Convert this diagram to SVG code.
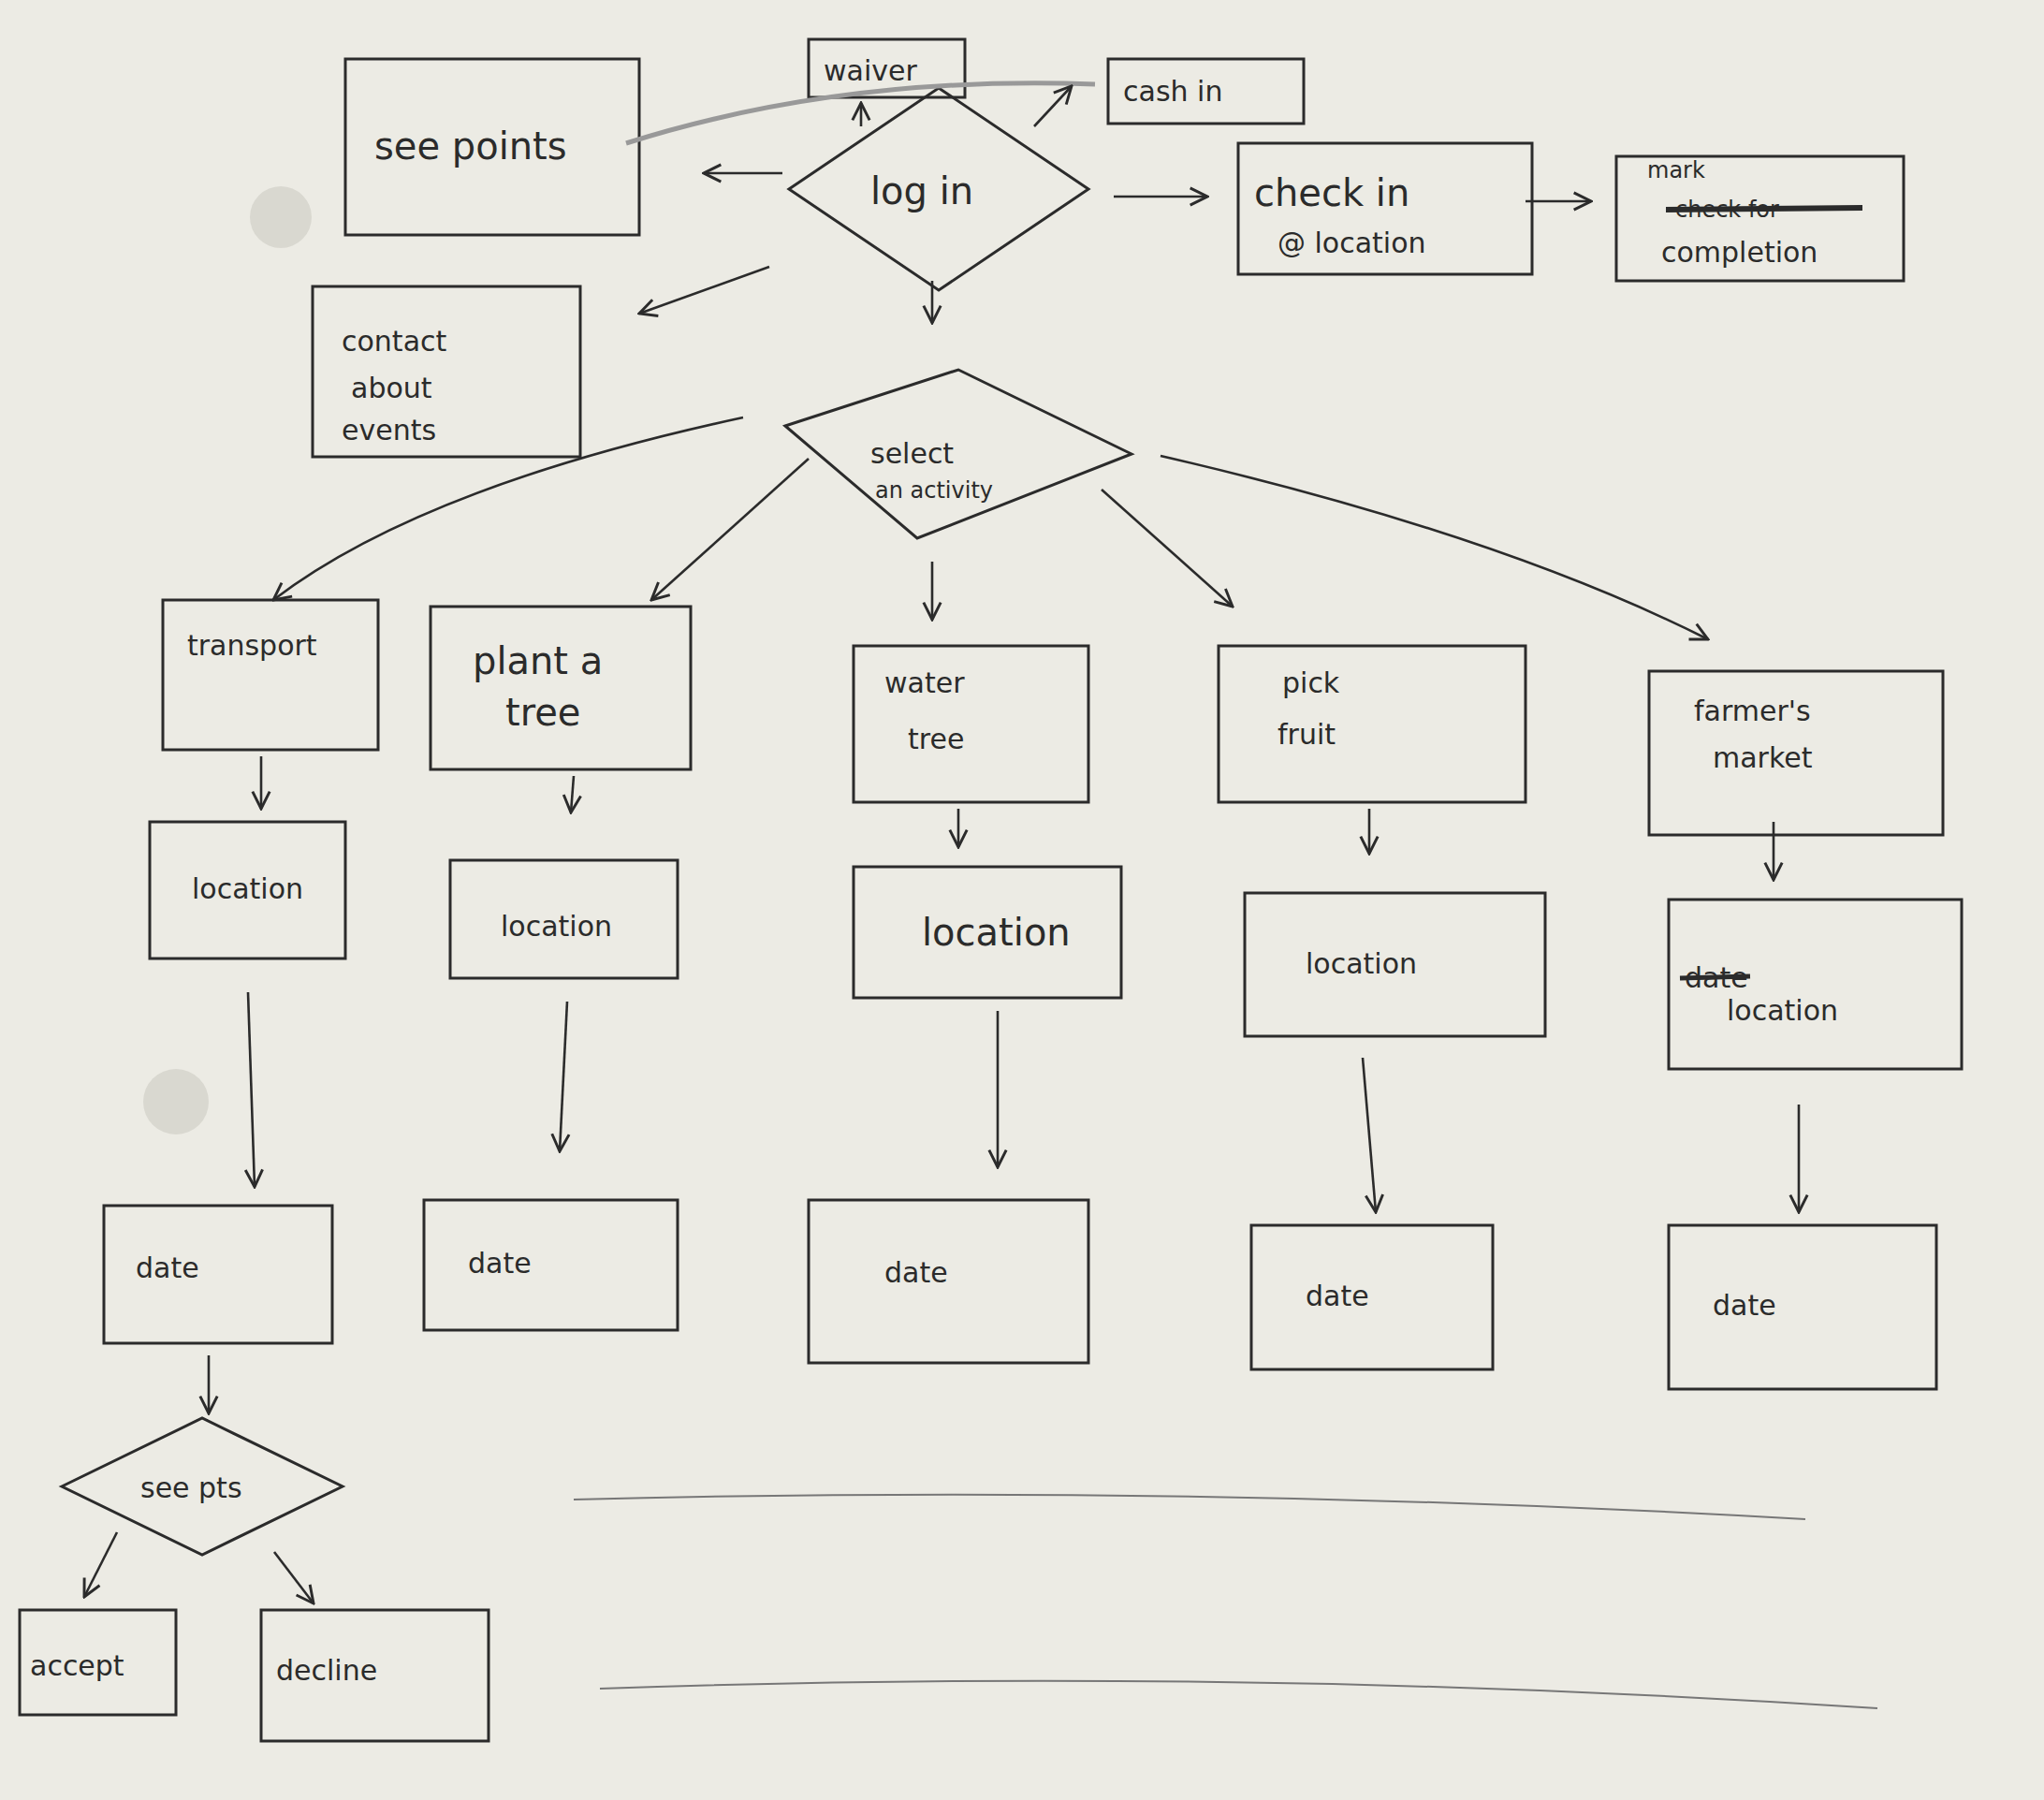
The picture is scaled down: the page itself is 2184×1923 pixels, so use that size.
<svg xmlns="http://www.w3.org/2000/svg" width="2184" height="1923" viewBox="0 0 2184 1923">
<defs>
<marker id="a" viewBox="0 0 12 12" refX="11" refY="6" markerWidth="22" markerHeight="22" markerUnits="userSpaceOnUse" orient="auto"><path d="M1 1 L11 6 L1 11" fill="none" stroke="#2b2b2b" stroke-width="1.6"/></marker>
</defs>
<style>
.n{fill:none;stroke:#2b2b2b;stroke-width:3}
.c{fill:none;stroke:#2b2b2b;stroke-width:2.6;marker-end:url(#a)}
text{font-family:"DejaVu Sans","Liberation Sans",sans-serif;fill:#2b2b2b;font-size:40px}
.s{font-size:30px}
.t{font-size:24px}
</style>
<rect width="2184" height="1923" fill="#ecebe4"/>
<circle cx="300" cy="232" r="33" fill="#d9d8d0"/>
<circle cx="188" cy="1177" r="35" fill="#d9d8d0"/>
<g id="seepoints"><rect class="n" x="369" y="63" width="314" height="188"/><text x="400" y="170">see points</text></g>
<g id="waiver"><rect class="n" x="864" y="42" width="167" height="62"/><text class="s" x="880" y="86">waiver</text></g>
<g id="cashin"><rect class="n" x="1184" y="63" width="209" height="69"/><text class="s" x="1200" y="108">cash in</text></g>
<g id="login"><path class="n" d="M843 202 L1003 94 L1163 202 L1003 310 Z"/><text x="930" y="218">log in</text></g>
<g id="checkin"><rect class="n" x="1323" y="153" width="314" height="140"/><text x="1340" y="220">check in</text><text class="s" x="1365" y="270">@ location</text></g>
<g id="mark"><rect class="n" x="1727" y="167" width="307" height="133"/><text class="t" x="1760" y="190">mark</text><text class="t" x="1790" y="232">check for</text><line x1="1780" y1="224" x2="1990" y2="222" stroke="#2b2b2b" stroke-width="6"/><text class="s" x="1775" y="280">completion</text></g>
<g id="contact"><rect class="n" x="334" y="306" width="286" height="182"/><text class="s" x="365" y="375">contact</text><text class="s" x="375" y="425">about</text><text class="s" x="365" y="470">events</text></g>
<g id="select"><path class="n" d="M839 455 L1024 395 L1209 485 L980 575 Z"/><text class="s" x="930" y="495">select</text><text class="t" x="935" y="532">an activity</text></g>
<g id="transport"><rect class="n" x="174" y="641" width="230" height="160"/><text class="s" x="200" y="700">transport</text></g>
<g id="plant"><rect class="n" x="460" y="648" width="278" height="174"/><text x="505" y="720">plant a</text><text x="540" y="775">tree</text></g>
<g id="water"><rect class="n" x="912" y="690" width="251" height="167"/><text class="s" x="945" y="740">water</text><text class="s" x="970" y="800">tree</text></g>
<g id="pick"><rect class="n" x="1302" y="690" width="328" height="167"/><text class="s" x="1370" y="740">pick</text><text class="s" x="1365" y="795">fruit</text></g>
<g id="farmers"><rect class="n" x="1762" y="717" width="314" height="175"/><text class="s" x="1810" y="770">farmer's</text><text class="s" x="1830" y="820">market</text></g>
<g id="loc1"><rect class="n" x="160" y="878" width="209" height="146"/><text class="s" x="205" y="960">location</text></g>
<g id="loc2"><rect class="n" x="481" y="919" width="243" height="126"/><text class="s" x="535" y="1000">location</text></g>
<g id="loc3"><rect class="n" x="912" y="926" width="286" height="140"/><text x="985" y="1010">location</text></g>
<g id="loc4"><rect class="n" x="1330" y="954" width="321" height="153"/><text class="s" x="1395" y="1040">location</text></g>
<g id="loc5"><rect class="n" x="1783" y="961" width="313" height="181"/><text class="s" x="1800" y="1055">date</text><line x1="1795" y1="1045" x2="1870" y2="1043" stroke="#2b2b2b" stroke-width="5"/><text class="s" x="1845" y="1090">location</text></g>
<g id="date1"><rect class="n" x="111" y="1288" width="244" height="147"/><text class="s" x="145" y="1365">date</text></g>
<g id="date2"><rect class="n" x="453" y="1282" width="271" height="139"/><text class="s" x="500" y="1360">date</text></g>
<g id="date3"><rect class="n" x="864" y="1282" width="299" height="174"/><text class="s" x="945" y="1370">date</text></g>
<g id="date4"><rect class="n" x="1337" y="1309" width="258" height="154"/><text class="s" x="1395" y="1395">date</text></g>
<g id="date5"><rect class="n" x="1783" y="1309" width="286" height="175"/><text class="s" x="1830" y="1405">date</text></g>
<g id="seepts"><path class="n" d="M66 1588 L216 1515 L366 1588 L216 1661 Z"/><text class="s" x="150" y="1600">see pts</text></g>
<g id="accept"><rect class="n" x="21" y="1720" width="167" height="112"/><text class="s" x="32" y="1790">accept</text></g>
<g id="decline"><rect class="n" x="279" y="1720" width="243" height="140"/><text class="s" x="295" y="1795">decline</text></g>
<g id="rules"><path d="M613 1602 Q1270 1585 1929 1623" fill="none" stroke="#777" stroke-width="2"/><path d="M641 1804 Q1320 1780 2006 1825" fill="none" stroke="#777" stroke-width="2"/></g>
<g id="connectors">
<path d="M669 153 Q900 80 1170 90" fill="none" stroke="#999" stroke-width="5"/>
<path class="c" d="M836 185 L752 185"/>
<path class="c" d="M920 135 L920 110"/>
<path class="c" d="M1105 135 L1145 92"/>
<path class="c" d="M1190 210 L1290 210"/>
<path class="c" d="M1630 215 L1700 215"/>
<path class="c" d="M822 285 L683 335"/>
<path class="c" d="M996 300 L996 345"/>
<path class="c" d="M794 446 Q450 520 292 641"/>
<path class="c" d="M864 490 L696 641"/>
<path class="c" d="M996 600 L996 662"/>
<path class="c" d="M1177 523 L1317 648"/>
<path class="c" d="M1240 487 Q1600 570 1825 683"/>
<path class="c" d="M279 808 L279 864"/>
<path class="c" d="M613 829 L610 868"/>
<path class="c" d="M1024 864 L1024 905"/>
<path class="c" d="M1463 864 L1463 912"/>
<path class="c" d="M1895 878 L1895 940"/>
<path class="c" d="M265 1060 L272 1268"/>
<path class="c" d="M606 1070 L598 1230"/>
<path class="c" d="M1066 1080 L1066 1247"/>
<path class="c" d="M1456 1130 L1470 1295"/>
<path class="c" d="M1922 1180 L1922 1295"/>
<path class="c" d="M223 1448 L223 1510"/>
<path class="c" d="M125 1637 L90 1706"/>
<path class="c" d="M293 1658 L335 1713"/>
</g>
</svg>
